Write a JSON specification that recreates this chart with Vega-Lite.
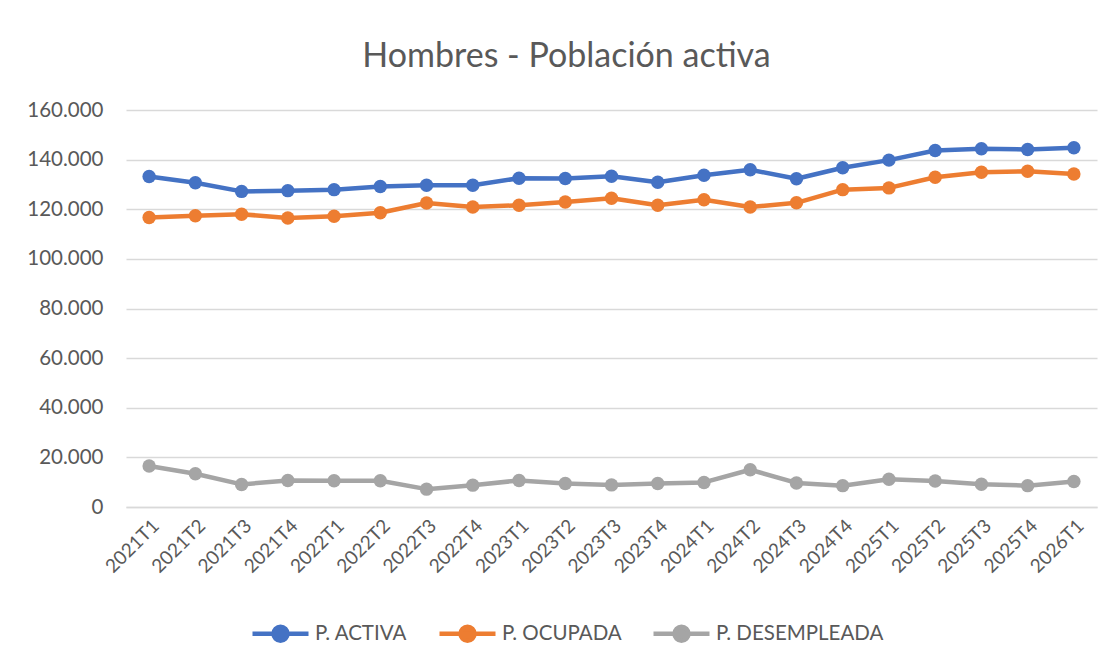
{
  "$schema": "https://vega.github.io/schema/vega-lite/v6.json",
  "autosize": "none",
  "width": 971,
  "height": 397,
  "padding": {"left": 126, "top": 110, "right": 21, "bottom": 159},
  "background": "white",
  "config": {
    "font": "Lato",
    "locale": {"number": {"decimal": ",", "thousands": ".", "grouping": [3], "currency": ["", " €"]}},
    "view": {"stroke": null},
    "axis": {"labelColor": "#595959", "labelFont": "Lato", "titleColor": "#595959"}
  },
  "title": {
    "text": "Hombres - Población activa",
    "fontSize": 34,
    "font": "Lato",
    "fontWeight": "normal",
    "color": "#595959",
    "anchor": "middle",
    "dx": -45,
    "offset": 26
  },
  "data": {
    "values": [
      {"t": "2021T1", "s": "P. ACTIVA", "v": 133200},
      {"t": "2021T2", "s": "P. ACTIVA", "v": 130700},
      {"t": "2021T3", "s": "P. ACTIVA", "v": 127200},
      {"t": "2021T4", "s": "P. ACTIVA", "v": 127500},
      {"t": "2022T1", "s": "P. ACTIVA", "v": 127900},
      {"t": "2022T2", "s": "P. ACTIVA", "v": 129200},
      {"t": "2022T3", "s": "P. ACTIVA", "v": 129700},
      {"t": "2022T4", "s": "P. ACTIVA", "v": 129700},
      {"t": "2023T1", "s": "P. ACTIVA", "v": 132500},
      {"t": "2023T2", "s": "P. ACTIVA", "v": 132400},
      {"t": "2023T3", "s": "P. ACTIVA", "v": 133300},
      {"t": "2023T4", "s": "P. ACTIVA", "v": 130900},
      {"t": "2024T1", "s": "P. ACTIVA", "v": 133700},
      {"t": "2024T2", "s": "P. ACTIVA", "v": 135900},
      {"t": "2024T3", "s": "P. ACTIVA", "v": 132300},
      {"t": "2024T4", "s": "P. ACTIVA", "v": 136700},
      {"t": "2025T1", "s": "P. ACTIVA", "v": 139800},
      {"t": "2025T2", "s": "P. ACTIVA", "v": 143700},
      {"t": "2025T3", "s": "P. ACTIVA", "v": 144400},
      {"t": "2025T4", "s": "P. ACTIVA", "v": 144100},
      {"t": "2026T1", "s": "P. ACTIVA", "v": 144800},
      {"t": "2021T1", "s": "P. OCUPADA", "v": 116700},
      {"t": "2021T2", "s": "P. OCUPADA", "v": 117400},
      {"t": "2021T3", "s": "P. OCUPADA", "v": 118000},
      {"t": "2021T4", "s": "P. OCUPADA", "v": 116500},
      {"t": "2022T1", "s": "P. OCUPADA", "v": 117200},
      {"t": "2022T2", "s": "P. OCUPADA", "v": 118600},
      {"t": "2022T3", "s": "P. OCUPADA", "v": 122500},
      {"t": "2022T4", "s": "P. OCUPADA", "v": 120900},
      {"t": "2023T1", "s": "P. OCUPADA", "v": 121600},
      {"t": "2023T2", "s": "P. OCUPADA", "v": 122900},
      {"t": "2023T3", "s": "P. OCUPADA", "v": 124400},
      {"t": "2023T4", "s": "P. OCUPADA", "v": 121600},
      {"t": "2024T1", "s": "P. OCUPADA", "v": 123800},
      {"t": "2024T2", "s": "P. OCUPADA", "v": 120900},
      {"t": "2024T3", "s": "P. OCUPADA", "v": 122600},
      {"t": "2024T4", "s": "P. OCUPADA", "v": 127900},
      {"t": "2025T1", "s": "P. OCUPADA", "v": 128600},
      {"t": "2025T2", "s": "P. OCUPADA", "v": 132900},
      {"t": "2025T3", "s": "P. OCUPADA", "v": 134900},
      {"t": "2025T4", "s": "P. OCUPADA", "v": 135300},
      {"t": "2026T1", "s": "P. OCUPADA", "v": 134200},
      {"t": "2021T1", "s": "P. DESEMPLEADA", "v": 16500},
      {"t": "2021T2", "s": "P. DESEMPLEADA", "v": 13400},
      {"t": "2021T3", "s": "P. DESEMPLEADA", "v": 9100},
      {"t": "2021T4", "s": "P. DESEMPLEADA", "v": 10700},
      {"t": "2022T1", "s": "P. DESEMPLEADA", "v": 10600},
      {"t": "2022T2", "s": "P. DESEMPLEADA", "v": 10600},
      {"t": "2022T3", "s": "P. DESEMPLEADA", "v": 7200},
      {"t": "2022T4", "s": "P. DESEMPLEADA", "v": 8800},
      {"t": "2023T1", "s": "P. DESEMPLEADA", "v": 10700},
      {"t": "2023T2", "s": "P. DESEMPLEADA", "v": 9500},
      {"t": "2023T3", "s": "P. DESEMPLEADA", "v": 8900},
      {"t": "2023T4", "s": "P. DESEMPLEADA", "v": 9500},
      {"t": "2024T1", "s": "P. DESEMPLEADA", "v": 9900},
      {"t": "2024T2", "s": "P. DESEMPLEADA", "v": 15000},
      {"t": "2024T3", "s": "P. DESEMPLEADA", "v": 9700},
      {"t": "2024T4", "s": "P. DESEMPLEADA", "v": 8600},
      {"t": "2025T1", "s": "P. DESEMPLEADA", "v": 11200},
      {"t": "2025T2", "s": "P. DESEMPLEADA", "v": 10500},
      {"t": "2025T3", "s": "P. DESEMPLEADA", "v": 9200},
      {"t": "2025T4", "s": "P. DESEMPLEADA", "v": 8600},
      {"t": "2026T1", "s": "P. DESEMPLEADA", "v": 10300}
    ]
  },
  "mark": {"type": "line", "strokeWidth": 4.5, "strokeJoin": "round", "strokeCap": "round", "point": {"filled": true, "size": 180, "opacity": 1}},
  "encoding": {
    "x": {
      "field": "t",
      "type": "ordinal",
      "sort": null,
      "scale": {"type": "point", "padding": 0.5},
      "axis": {
        "title": null,
        "labelAngle": -45,
        "labelFontSize": 19,
        "labelPadding": 9,
        "ticks": false,
        "domain": true,
        "domainColor": "#D9D9D9",
        "domainWidth": 1.3,
        "grid": false
      }
    },
    "y": {
      "field": "v",
      "type": "quantitative",
      "scale": {"domain": [0, 160000], "nice": false},
      "axis": {
        "title": null,
        "values": [0, 20000, 40000, 60000, 80000, 100000, 120000, 140000, 160000],
        "format": ",d",
        "labelFontSize": 20.5,
        "labelPadding": 23,
        "ticks": false,
        "domain": false,
        "grid": true,
        "gridColor": "#D9D9D9",
        "gridWidth": 1.3
      }
    },
    "color": {
      "field": "s",
      "type": "nominal",
      "sort": null,
      "scale": {"domain": ["P. ACTIVA", "P. OCUPADA", "P. DESEMPLEADA"], "range": ["#4472C4", "#ED7D31", "#A5A5A5"]},
      "legend": {
        "title": null,
        "orient": "none",
        "direction": "horizontal",
        "legendX": 124,
        "legendY": 493,
        "labelFontSize": 20.5,
        "labelColor": "#595959",
        "labelFont": "Lato",
        "labelLimit": 400,
        "labelOffset": 4,
        "columnPadding": 22,
        "symbolType": "M-1,0L1,0M0.25,0A0.25,0.25,0,1,1,-0.25,0A0.25,0.25,0,1,1,0.25,0Z",
        "symbolSize": 3136,
        "symbolStrokeWidth": 4.5,
        "symbolOpacity": 1,
        "encode": {
          "symbols": {
            "update": {
              "fill": {"scale": "color", "field": "value"},
              "stroke": {"scale": "color", "field": "value"},
              "fillOpacity": {"value": 1}
            }
          }
        }
      }
    }
  }
}
